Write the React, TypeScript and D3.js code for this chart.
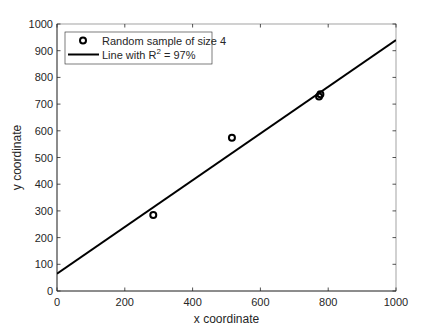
import React from "react";
import * as d3 from "d3";

const sampleX = [284, 516, 773, 777];
const sampleY = [285, 574, 728, 737];
const fitX = [0, 1000];
const fitY = [65, 940];
const xTicks = [0, 200, 400, 600, 800, 1000];
const yTicks = [0, 100, 200, 300, 400, 500, 600, 700, 800, 900, 1000];

const W = 438;
const H = 328;
const margin = { left: 57, right: 42, top: 24, bottom: 37 };
const axisColor = "#262626";
const font = "'Liberation Sans', Arial, sans-serif";

const App = () => {
  const x = d3.scaleLinear().domain([0, 1000]).range([margin.left, W - margin.right]);
  const y = d3.scaleLinear().domain([0, 1000]).range([H - margin.bottom, margin.top]);
  const line = d3
    .line<number>()
    .x((d) => x(d))
    .y((_, i) => y(fitY[i]));

  const x0 = x(0), x1 = x(1000), y0 = y(0), y1 = y(1000);
  const tick = 3.5;

  return (
    <svg
      width={W}
      height={H}
      style={{ position: "absolute", left: 0, top: 0, background: "#fff" }}
      fontFamily={font}
    >
      <defs>
        <clipPath id="plot">
          <rect x={x0} y={y1} width={x1 - x0} height={y0 - y1} />
        </clipPath>
      </defs>

      {/* box */}
      <rect x={x0} y={y1} width={x1 - x0} height={y0 - y1} fill="none" stroke="#8c8c8c" strokeWidth={0.8} />
      <line x1={x0} x2={x1} y1={y0} y2={y0} stroke={axisColor} strokeWidth={0.8} />
      <line x1={x0} x2={x0} y1={y0} y2={y1} stroke={axisColor} strokeWidth={0.8} />

      {xTicks.map((t) => (
        <g key={"x" + t}>
          <line x1={x(t)} x2={x(t)} y1={y0} y2={y0 - tick} stroke={axisColor} strokeWidth={0.8} />
          <line x1={x(t)} x2={x(t)} y1={y1} y2={y1 + tick} stroke={axisColor} strokeWidth={0.8} />
          <text x={x(t)} y={y0 + 15} fontSize={11} textAnchor="middle" fill={axisColor}>
            {t}
          </text>
        </g>
      ))}
      {yTicks.map((t) => (
        <g key={"y" + t}>
          <line x1={x0} x2={x0 + tick} y1={y(t)} y2={y(t)} stroke={axisColor} strokeWidth={0.8} />
          <line x1={x1} x2={x1 - tick} y1={y(t)} y2={y(t)} stroke={axisColor} strokeWidth={0.8} />
          <text x={x0 - 4} y={y(t) + 4} fontSize={11} textAnchor="end" fill={axisColor}>
            {t}
          </text>
        </g>
      ))}

      <text x={(x0 + x1) / 2} y={H - 5} fontSize={12} textAnchor="middle" fill={axisColor}>
        x coordinate
      </text>
      <text
        transform={`translate(${21},${(y0 + y1) / 2}) rotate(-90)`}
        fontSize={12}
        textAnchor="middle"
        fill={axisColor}
      >
        y coordinate
      </text>

      <g clipPath="url(#plot)">
        <path d={line(fitX) || ""} fill="none" stroke="#000" strokeWidth={2} />
        {sampleX.map((v, i) => (
          <circle key={i} cx={x(v)} cy={y(sampleY[i])} r={3} fill="none" stroke="#000" strokeWidth={2} />
        ))}
      </g>

      {/* legend */}
      <g>
        <rect x={65} y={32} width={147} height={32} fill="#fff" stroke="#262626" strokeWidth={0.6} />
        <circle cx={83} cy={40.5} r={3} fill="none" stroke="#000" strokeWidth={2} />
        <text x={102} y={44.5} fontSize={11} fill={axisColor}>
          Random sample of size 4
        </text>
        <line x1={68} x2={99} y1={54.5} y2={54.5} stroke="#000" strokeWidth={2} />
        <text x={102} y={58.5} fontSize={11} fill={axisColor}>
          Line with R
          <tspan dy={-4.5} fontSize={8}>2</tspan>
          <tspan dy={4.5}> = 97%</tspan>
        </text>
      </g>
    </svg>
  );
};

export default App;
